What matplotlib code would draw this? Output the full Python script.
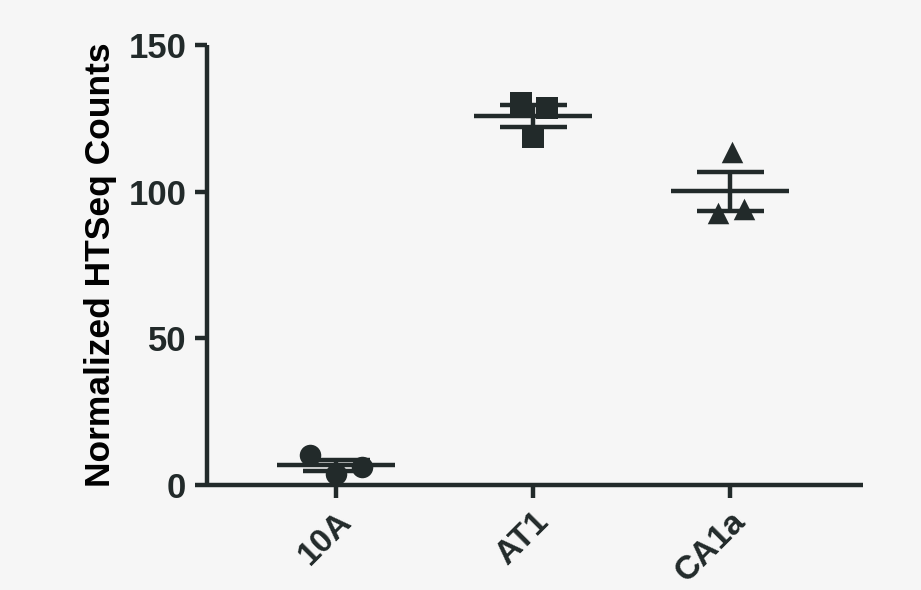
import numpy as np
import matplotlib
matplotlib.use("Agg")
import matplotlib.pyplot as plt

# ---- DATA ----
groups = ["10A", "AT1", "CA1a"]
vals_10a = [10.2, 6.1, 3.8]
vals_at1 = [130.2, 128.5, 118.6]
vals_ca1a = [113.5, 92.7, 94.1]
# horizontal spread of the replicate points (as drawn)
jitter_10a = [-0.13, 0.13, 0.0]
jitter_at1 = [-0.06, 0.07, 0.0]
jitter_ca1a = [0.01, -0.06, 0.07]

all_vals = [vals_10a, vals_at1, vals_ca1a]
all_jit = [jitter_10a, jitter_at1, jitter_ca1a]
markers = ["o", "s", "^"]

ink = "#222a2a"
bg = "#f6f6f6"

plt.rcParams["font.family"] = ["Liberation Sans", "DejaVu Sans"]
plt.rcParams["font.weight"] = "bold"

fig = plt.figure(figsize=(9.21, 5.90), dpi=100, facecolor=bg)
ax = fig.add_axes([0.2248, 0.178, 0.7123, 0.7458], facecolor=bg)

for i, (v, j, m) in enumerate(zip(all_vals, all_jit, markers)):
    v = np.array(v)
    mean = v.mean()
    sem = v.std(ddof=1) / np.sqrt(len(v))
    ax.scatter(i + np.array(j), v, marker=m, s=240, color=ink, zorder=3, linewidths=0)
    # mean line
    ax.hlines(mean, i - 0.3, i + 0.3, color=ink, lw=3.2, zorder=4)
    # SEM bars
    ax.vlines(i, mean - sem, mean + sem, color=ink, lw=3.2, zorder=4)
    ax.hlines([mean - sem, mean + sem], i - 0.17, i + 0.17, color=ink, lw=3.2, zorder=4)

ax.set_xlim(-0.655, 2.675)
ax.set_ylim(0, 150)
ax.set_yticks([0, 50, 100, 150])
ax.set_xticks(range(len(groups)))
ax.set_xticklabels(groups, rotation=45, ha="right", rotation_mode="anchor")
ax.set_ylabel("Normalized HTSeq Counts", fontsize=25.5, fontweight="bold", labelpad=8)

for s in ["top", "right"]:
    ax.spines[s].set_visible(False)
for s in ["left", "bottom"]:
    ax.spines[s].set_linewidth(3.2)
    ax.spines[s].set_color(ink)
    ax.spines[s].set_capstyle("butt")

ax.tick_params(axis="both", length=9, width=3.2, color=ink, labelsize=25,
               labelcolor=ink, pad=6)
ax.tick_params(axis="x", pad=6, labelsize=24)
for t in ax.get_xticklabels() + ax.get_yticklabels():
    t.set_fontweight("bold")

plt.savefig("out.png", dpi=100, facecolor=bg)
